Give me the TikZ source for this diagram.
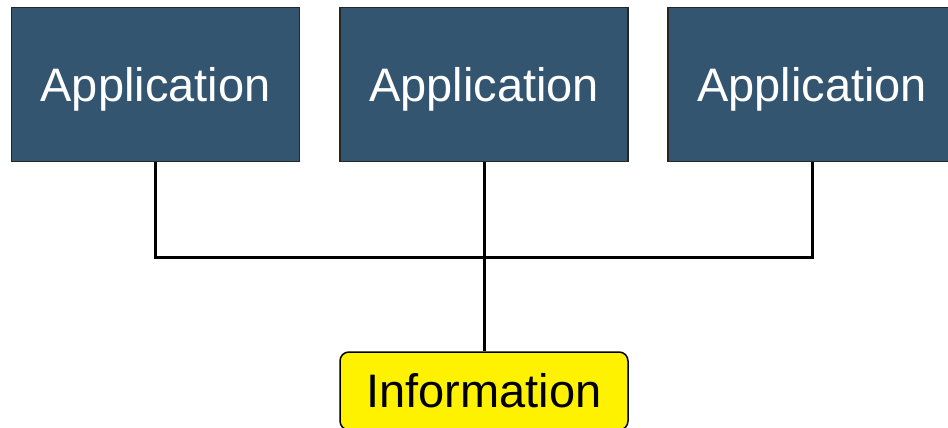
\documentclass[tikz,border=0pt]{standalone}
\usepackage{fontspec}
\setmainfont{Liberation Sans}
\usepackage{tikz}
\usetikzlibrary{positioning}
\definecolor{appblue}{RGB}{51,85,112}

\begin{document}
\begin{tikzpicture}[x=1pt,y=-1pt]
            \tikzstyle{every node}+=[inner sep=0pt]
            \tikzstyle{appbox}=[draw=black!85, line width=1.5pt, fill=appblue, text=white, minimum width=288pt, minimum height=154pt, text depth=0pt, font=\fontsize{47}{56}\selectfont]
            \tikzstyle{infobox}=[draw=black, line width=1.5pt, fill=yellow, rounded corners=9pt, minimum width=288pt, minimum height=78pt, font=\fontsize{47}{56}\selectfont]
            \tikzstyle{wire}=[black, line width=3pt]
            \useasboundingbox (0,0) rectangle (948,428);
            \node [appbox] (app1) at (155.5,84.5) {Application};
            \node [appbox] (app2) at (484,84.5) {Application};
            \node [appbox] (app3) at (812,84.5) {Application};
            \node [infobox] (info) at (484,391) {Information};
            \coordinate (hub) at (484,257);
            \draw [wire] (app1.south) |- (hub) -| (app3.south);
            \draw [wire] (app2.south) -- (info.north);
\end{tikzpicture}
\end{document}
